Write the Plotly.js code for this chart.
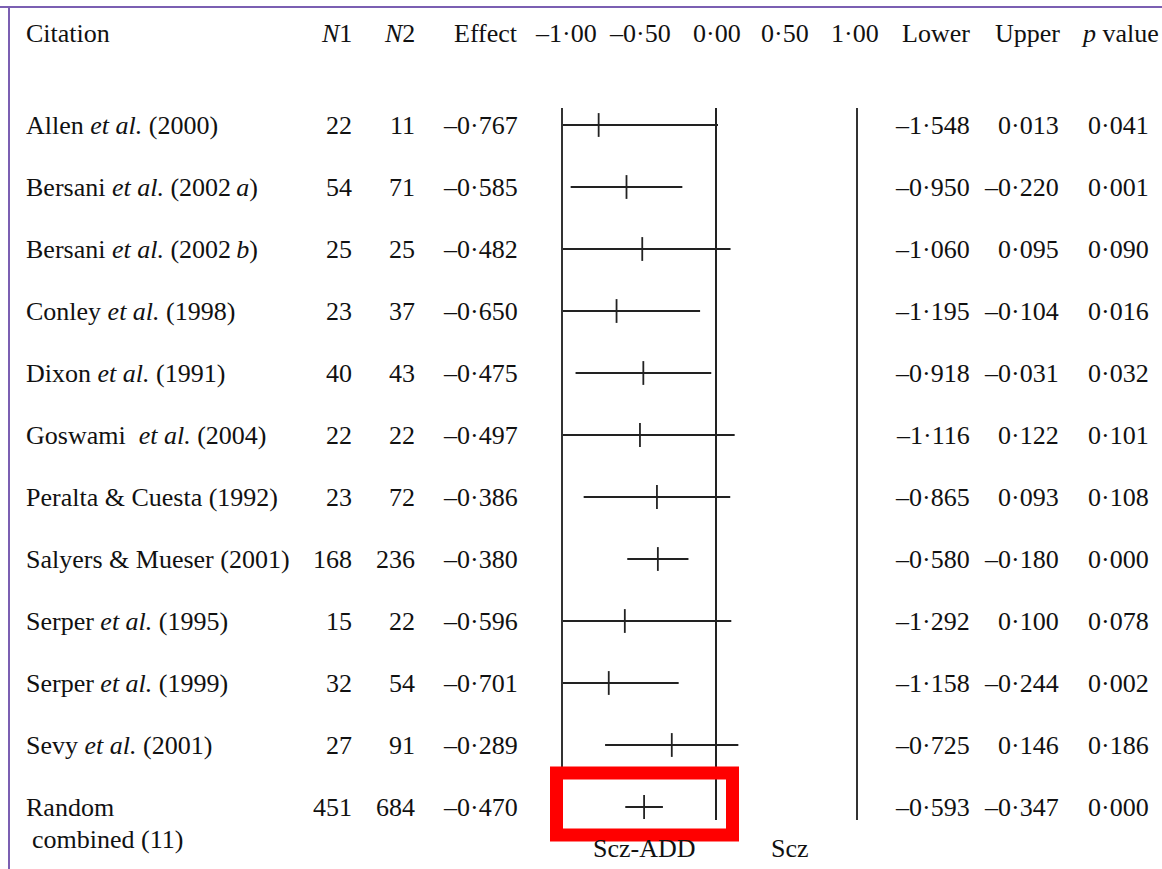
<!DOCTYPE html>
<html>
<head>
<meta charset="utf-8">
<script src="https://cdn.plot.ly/plotly-3.0.1.min.js"></script>
<style>html,body{margin:0;padding:0;background:#fff;}#chart{width:1162px;height:869px;}</style>
</head>
<body>
<div id="chart"></div>
<script>
// ---- data ----
const citations = [
  "Allen <i>et al.</i> (2000)",
  "Bersani <i>et al.</i> (2002\u2009<i>a</i>)",
  "Bersani <i>et al.</i> (2002\u2009<i>b</i>)",
  "Conley <i>et al.</i> (1998)",
  "Dixon <i>et al.</i> (1991)",
  "Goswami \u00a0<i>et al.</i> (2004)",
  "Peralta & Cuesta (1992)",
  "Salyers & Mueser (2001)",
  "Serper <i>et al.</i> (1995)",
  "Serper <i>et al.</i> (1999)",
  "Sevy <i>et al.</i> (2001)",
  "Random"
];
const n1 = [22, 54, 25, 23, 40, 22, 23, 168, 15, 32, 27, 451];
const n2 = [11, 71, 25, 37, 43, 22, 72, 236, 22, 54, 91, 684];
const effect = [-0.767, -0.585, -0.482, -0.650, -0.475, -0.497, -0.386, -0.380, -0.596, -0.701, -0.289, -0.470];
const lower  = [-1.548, -0.950, -1.060, -1.195, -0.918, -1.116, -0.865, -0.580, -1.292, -1.158, -0.725, -0.593];
const upper  = [0.013, -0.220, 0.095, -0.104, -0.031, 0.122, 0.093, -0.180, 0.100, -0.244, 0.146, -0.347];
const pvals  = ["0·041", "0·001", "0·090", "0·016", "0·032", "0·101", "0·108", "0·000", "0·078", "0·002", "0·186", "0·000"];
const scaleLabels = ["–1·00", "–0·50", "0·00", "0·50", "1·00"];
const headers = ["Citation", "<i>N</i>1", "<i>N</i>2", "Effect", "Lower", "Upper", "<i>p</i> value"];
const footLabels = ["Scz-ADD", "Scz"];
const combinedLabel = "combined (11)";

// ---- helpers ----
function fmt(v) {
  return (v < 0 ? "–" : "") + Math.abs(v).toFixed(3).replace(".", "·");
}
const W = 1162, H = 869;
const PL = 563, PR = 856, PT = 108, PB = 820;
const xp = px => (px - PL) / (PR - PL);
const yp = py => (PB - py) / (PB - PT);

const FONT = "Liberation Serif, Times New Roman, serif";
const FS = 26;
const TXT = "#111";
const PADL = -3, PADR = 2;

const rows = citations.map((_, i) => i);

// CI lines
const ciX = [], ciY = [];
rows.forEach(i => { ciX.push(lower[i], upper[i], null); ciY.push(i, i, null); });

const traces = [
  {
    type: "scatter", mode: "lines", x: ciX, y: ciY,
    line: { color: "#222", width: 1.8 }, hoverinfo: "skip", showlegend: false
  },
  {
    type: "scatter", mode: "markers", x: effect, y: rows,
    marker: { symbol: "line-ns-open", size: 17, color: "#222", line: { color: "#222", width: 1.8 } },
    hoverinfo: "skip", showlegend: false
  }
];

// ---- annotations ----
const ann = [];
function addText(text, px, y, yref, xanchor) {
  const shift = xanchor === "left" ? PADL : (xanchor === "right" ? PADR : 0);
  ann.push({ text: text, x: xp(px + shift), xref: "paper", y: y, yref: yref, xanchor: xanchor, yanchor: "middle",
    showarrow: false, font: { family: FONT, size: FS, color: TXT } });
}
// header
const headerY = yp(33);
addText(headers[0], 27, headerY, "paper", "left");
addText(headers[1], 352, headerY, "paper", "right");
addText(headers[2], 415, headerY, "paper", "right");
addText(headers[3], 518, headerY, "paper", "right");
addText(headers[4], 936, headerY, "paper", "center");
addText(headers[5], 1027, headerY, "paper", "center");
addText(headers[6], 1120, headerY, "paper", "center");
const scalePx = [566, 640, 717, 785, 855];
scaleLabels.forEach((s, k) => addText(s, scalePx[k], headerY, "paper", "center"));

// rows
rows.forEach(i => {
  addText(citations[i], 27, i, "y", "left");
  addText(String(n1[i]), 352, i, "y", "right");
  addText(String(n2[i]), 415, i, "y", "right");
  addText(fmt(effect[i]), 518, i, "y", "right");
  addText(fmt(lower[i]), 970, i, "y", "right");
  addText(fmt(upper[i]), 1059, i, "y", "right");
  addText(pvals[i], 1149, i, "y", "right");
});
addText(combinedLabel, 33, yp(839), "paper", "left");
addText(footLabels[0], 644, yp(849), "paper", "center");
addText(footLabels[1], 790, yp(849), "paper", "center");

// ---- shapes ----
const shapes = [
  { type: "line", xref: "paper", yref: "paper", x0: xp(0), x1: xp(W), y0: yp(7), y1: yp(7),
    line: { color: "#7b5fb2", width: 2 } },
  { type: "line", xref: "paper", yref: "paper", x0: xp(9), x1: xp(9), y0: yp(6), y1: yp(H),
    line: { color: "#7b5fb2", width: 2 } },
  { type: "rect", xref: "paper", yref: "paper", x0: xp(556.5), x1: xp(732.5), y0: yp(773), y1: yp(835),
    line: { color: "#ff0000", width: 13 }, fillcolor: "rgba(0,0,0,0)", layer: "above" }
];

const layout = {
  width: W, height: H,
  margin: { l: PL, r: W - PR, t: PT, b: H - PB, pad: 0 },
  paper_bgcolor: "#fff", plot_bgcolor: "#fff",
  showlegend: false,
  xaxis: {
    range: [-1, (PR - 716) / 153], showgrid: false, showticklabels: false, ticks: "",
    zeroline: true, zerolinecolor: "#222", zerolinewidth: 1.8, showline: false, fixedrange: true
  },
  yaxis: {
    range: [11 + (PB - 807) / 62, -(125 - PT) / 62], showgrid: false, showticklabels: false, ticks: "",
    zeroline: false, showline: true, mirror: true, linecolor: "#333", linewidth: 1.8, fixedrange: true
  },
  annotations: ann,
  shapes: shapes
};

Plotly.newPlot("chart", traces, layout, { staticPlot: true, displayModeBar: false });
</script>
</body>
</html>
